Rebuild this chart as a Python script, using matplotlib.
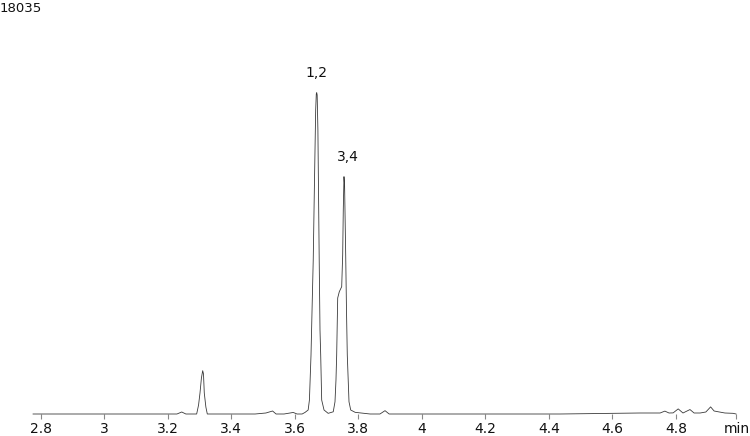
import matplotlib
matplotlib.use('Agg')
import matplotlib.pyplot as plt
import numpy as np

# chromatogram trace (time in min, signal in counts)
t = [2.776, 3.144, 3.229, 3.244, 3.257, 3.291, 3.297, 3.3015, 3.306, 3.310,
     3.3125, 3.315, 3.320, 3.3245, 3.475, 3.509, 3.530, 3.541, 3.566, 3.585,
     3.595, 3.607, 3.623, 3.632, 3.642, 3.646, 3.651, 3.655, 3.658, 3.662,
     3.6657, 3.6676, 3.6689, 3.6704, 3.6727, 3.6749, 3.6768, 3.6793, 3.6815, 3.6846,
     3.692, 3.705, 3.721, 3.7265, 3.7296, 3.7318, 3.735, 3.740, 3.7476, 3.7507,
     3.7526, 3.7548, 3.7567, 3.7602, 3.7627, 3.7652, 3.7706, 3.776, 3.790, 3.837,
     3.868, 3.884, 3.897, 4.435, 4.687, 4.750, 4.765, 4.778, 4.791, 4.807,
     4.822, 4.844, 4.857, 4.876, 4.894, 4.909, 4.920, 4.933, 4.954, 4.980,
     4.989]
signal = [0, 0, 0, 90, 0, 0, 405, 945, 1620, 1950,
          1800, 945, 315, 0, 0, 45, 135, 0, 0, 45,
          70, 0, 0, 70, 180, 630, 2655, 5130, 6930, 10530,
          13680, 14400, 14460, 14355, 12780, 9630, 6930, 3780, 2655, 630,
          180, 30, 100, 550, 1530, 2655, 5220, 5500, 5730, 7155,
          9180, 10680, 10300, 7155, 4660, 2655, 550, 180, 75, 0,
          0, 150, 0, 0, 45, 45, 130, 45, 50, 230,
          45, 200, 45, 45, 90, 320, 135, 100, 45, 30,
          0]

ticks = [2.8, 3.0, 3.2, 3.4, 3.6, 3.8, 4.0, 4.2, 4.4, 4.6, 4.8, 4.99]
tick_labels = ['2.8', '3', '3.2', '3.4', '3.6', '3.8', '4', '4.2', '4.4', '4.6', '4.8', 'min']

peak_names = ['1,2', '3,4']
peak_t = [3.6689, 3.7548]
peak_top = [14460, 10680]
peak_dx = [0, 3]   # label nudge, points

fig = plt.figure(figsize=(7.5, 4.36), dpi=100)
ax = fig.add_axes([0, 22/436, 1, 414/436])
ax.plot(t, signal, color='#3a3a3a', lw=0.6, clip_on=False)
ax.set_xlim(2.6719, 5.0330)
ax.set_ylim(0, 18630)

for name, x, y, dx in zip(peak_names, peak_t, peak_top, peak_dx):
    ax.annotate(name, (x, y), xytext=(dx, 9), textcoords='offset points',
                ha='center', va='bottom', fontsize=10, color='#111111')

for s in ax.spines.values():
    s.set_visible(False)
ax.set_yticks([])
ax.set_xticks(ticks)
ax.set_xticklabels(tick_labels)
ax.tick_params(axis='x', direction='out', length=3.6, width=0.8,
               color='#888888', labelcolor='#111111', labelsize=10, pad=2.5)

fig.text(0.0, 1 - 8/436, '18035', fontsize=9.5, color='#111111', ha='left', va='center')

plt.savefig('out.png')
